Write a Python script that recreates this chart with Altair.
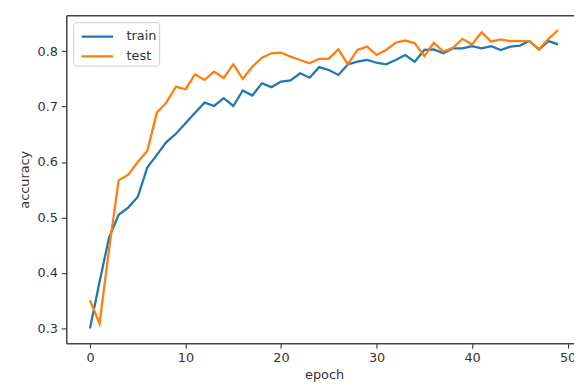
import altair as alt
import pandas as pd

epochs = list(range(50))
train = [0.300, 0.384, 0.464, 0.505, 0.518, 0.537, 0.590, 0.613, 0.636, 0.651,
         0.670, 0.689, 0.707, 0.701, 0.715, 0.701, 0.729, 0.720, 0.742, 0.735,
         0.745, 0.747, 0.760, 0.752, 0.771, 0.766, 0.757, 0.776, 0.781, 0.784,
         0.779, 0.776, 0.784, 0.793, 0.781, 0.802, 0.803, 0.796, 0.805, 0.805,
         0.809, 0.805, 0.809, 0.802, 0.808, 0.810, 0.818, 0.803, 0.818, 0.812]
test = [0.351, 0.309, 0.443, 0.567, 0.577, 0.600, 0.620, 0.689, 0.707, 0.736,
        0.731, 0.758, 0.748, 0.763, 0.751, 0.776, 0.750, 0.772, 0.788, 0.796,
        0.797, 0.790, 0.784, 0.778, 0.786, 0.786, 0.803, 0.776, 0.802, 0.808,
        0.793, 0.802, 0.815, 0.819, 0.814, 0.791, 0.815, 0.799, 0.806, 0.822,
        0.812, 0.834, 0.817, 0.821, 0.818, 0.818, 0.818, 0.803, 0.822, 0.838]
series_names = ["train", "test"]
series_colors = ["#1f77b4", "#ff7f0e"]
x_ticks = [0, 10, 20, 30, 40, 50]
y_ticks = [0.3, 0.4, 0.5, 0.6, 0.7, 0.8]

df = pd.DataFrame({
    "epoch": epochs * 2,
    "accuracy": train + test,
    "series": ["train"] * len(train) + ["test"] * len(test),
})

FONT = "DejaVu Sans"
AX = "#444444"
TXT = "#333333"

xscale = alt.Scale(domain=[-2.48, 50.67], nice=False, zero=False)
yscale = alt.Scale(domain=[0.2735, 0.8645], nice=False, zero=False)

lines = alt.Chart(df).mark_line(strokeWidth=2.3).encode(
    x=alt.X("epoch:Q", scale=xscale,
            axis=alt.Axis(title="epoch", values=x_ticks, grid=False,
                          domainColor=AX, domainWidth=1.5, tickColor=AX,
                          tickSize=5, tickWidth=1.2, labelPadding=4,
                          labelFontSize=13, labelColor=TXT, labelFont=FONT,
                          titleFontSize=13, titleColor=TXT, titleFont=FONT,
                          titleFontWeight="normal", titlePadding=4, titleX=261)),
    y=alt.Y("accuracy:Q", scale=yscale,
            axis=alt.Axis(title="accuracy", values=y_ticks, format=".1f",
                          grid=False, domainColor=AX, domainWidth=1.5,
                          tickColor=AX, tickSize=5, tickWidth=1.2,
                          labelPadding=4, labelFontSize=13, labelColor=TXT,
                          labelFont=FONT, titleFontSize=13, titleColor=TXT,
                          titleFont=FONT, titleFontWeight="normal",
                          titlePadding=6)),
    color=alt.Color("series:N",
                    scale=alt.Scale(domain=series_names, range=series_colors),
                    sort=series_names,
                    legend=alt.Legend(title=None, orient="top-left",
                                      offset=7, symbolType="M-1.45,0H1.45",
                                      symbolSize=484, symbolStrokeWidth=2.3,
                                      symbolOffset=10,
                                      labelFontSize=13, labelFont=FONT,
                                      labelColor=TXT, labelOffset=17,
                                      labelExpr="datum.label + '\u00a0\u00a0\u00a0\u00a0'",
                                      rowPadding=0, padding=2,
                                      strokeColor="#cccccc", cornerRadius=3,
                                      fillColor="white")),
)

top_frame = alt.Chart(df).mark_line(opacity=0).encode(
    x=alt.X("epoch:Q", scale=xscale,
            axis=alt.Axis(orient="top", title=None, labels=False, ticks=False,
                          grid=False, domainColor=AX, domainWidth=1.5)),
    y=alt.Y("accuracy:Q", scale=yscale),
)

chart = alt.layer(lines, top_frame).resolve_axis(x="independent").properties(
    width=514, height=332,
    padding={"left": 59, "top": 5, "right": 0, "bottom": 46},
    autosize=alt.AutoSizeParams(type="none"),
).configure_view(stroke=None)

chart.save("out.html", embed_options={"renderer": "svg", "actions": False})
